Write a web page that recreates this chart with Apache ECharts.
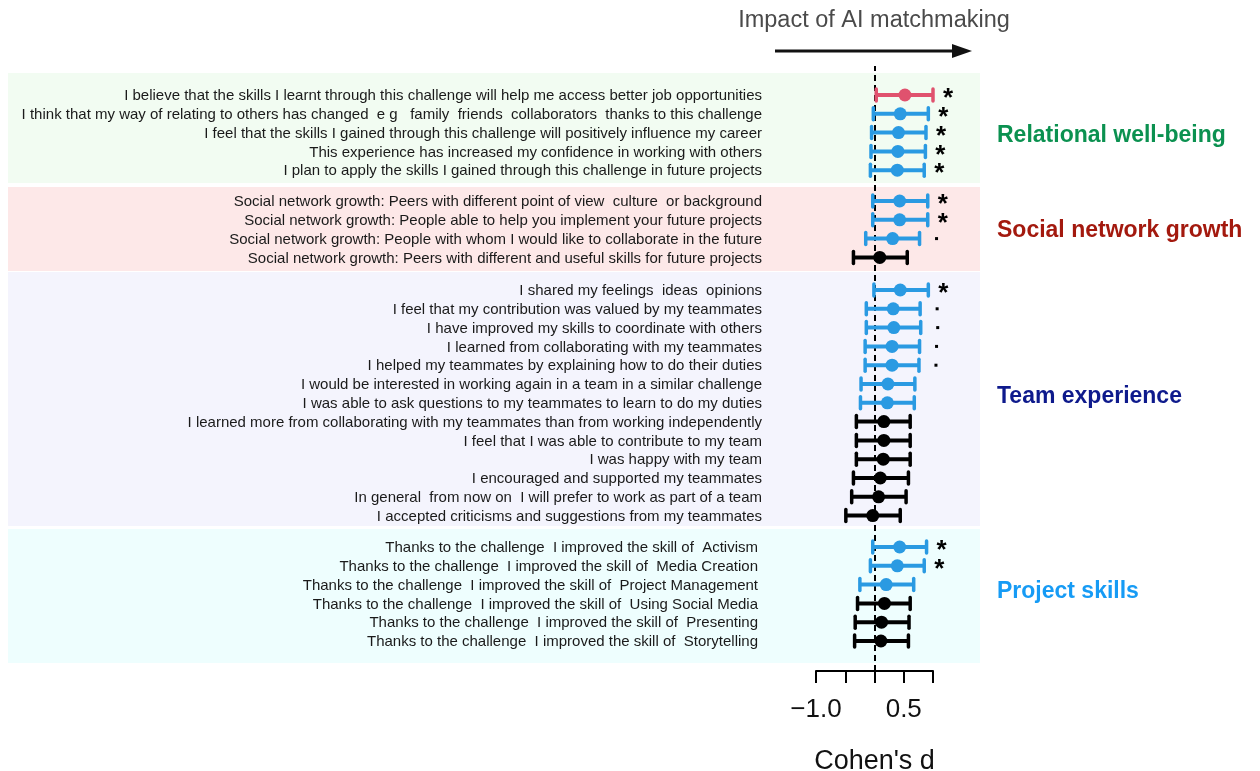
<!DOCTYPE html>
<html>
<head>
<meta charset="utf-8">
<script src="https://cdn.jsdelivr.net/npm/echarts@6/dist/echarts.min.js"></script>
<style>
html,body{margin:0;padding:0;background:#fff;}
#chart{width:1260px;height:771px;}
</style>
</head>
<body>
<div id="chart"></div>
<script>
// ---------------- DATA ----------------
const groupNames = ['Relational well-being', 'Social network growth', 'Team experience', 'Project skills'];

const relLabels = [
  'I believe that the skills I learnt through this challenge will help me access better job opportunities',
  'I think that my way of relating to others has changed  e g   family  friends  collaborators  thanks to this challenge',
  'I feel that the skills I gained through this challenge will positively influence my career',
  'This experience has increased my confidence in working with others',
  'I plan to apply the skills I gained through this challenge in future projects'
];
const relMean = [0.52, 0.44, 0.41, 0.40, 0.39];
const relLow  = [0.03, -0.02, -0.05, -0.06, -0.07];
const relHigh = [1.00, 0.92, 0.88, 0.87, 0.85];
const relSig  = [4, 3, 3, 3, 3];

const snLabels = [
  'Social network growth: Peers with different point of view  culture  or background',
  'Social network growth: People able to help you implement your future projects',
  'Social network growth: People with whom I would like to collaborate in the future',
  'Social network growth: Peers with different and useful skills for future projects'
];
const snMean = [0.43, 0.43, 0.31, 0.09];
const snLow  = [-0.03, -0.03, -0.15, -0.36];
const snHigh = [0.91, 0.91, 0.77, 0.56];
const snSig  = [3, 3, 2, 0];

const teamLabels = [
  'I shared my feelings  ideas  opinions',
  'I feel that my contribution was valued by my teammates',
  'I have improved my skills to coordinate with others',
  'I learned from collaborating with my teammates',
  'I helped my teammates by explaining how to do their duties',
  'I would be interested in working again in a team in a similar challenge',
  'I was able to ask questions to my teammates to learn to do my duties',
  'I learned more from collaborating with my teammates than from working independently',
  'I feel that I was able to contribute to my team',
  'I was happy with my team',
  'I encouraged and supported my teammates',
  'In general  from now on  I will prefer to work as part of a team',
  'I accepted criticisms and suggestions from my teammates'
];
const teamMean = [0.44, 0.32, 0.33, 0.30, 0.30, 0.23, 0.22, 0.16, 0.16, 0.15, 0.10, 0.07, -0.03];
const teamLow  = [-0.01, -0.14, -0.14, -0.16, -0.16, -0.23, -0.24, -0.31, -0.31, -0.31, -0.36, -0.39, -0.49];
const teamHigh = [0.92, 0.78, 0.79, 0.77, 0.76, 0.69, 0.68, 0.61, 0.61, 0.61, 0.58, 0.54, 0.44];
const teamSig  = [3, 2, 2, 2, 2, 1, 1, 0, 0, 0, 0, 0, 0];

const projLabels = [
  'Thanks to the challenge  I improved the skill of  Activism',
  'Thanks to the challenge  I improved the skill of  Media Creation',
  'Thanks to the challenge  I improved the skill of  Project Management',
  'Thanks to the challenge  I improved the skill of  Using Social Media',
  'Thanks to the challenge  I improved the skill of  Presenting',
  'Thanks to the challenge  I improved the skill of  Storytelling'
];
const projMean = [0.43, 0.39, 0.20, 0.17, 0.12, 0.11];
const projLow  = [-0.03, -0.07, -0.25, -0.29, -0.33, -0.34];
const projHigh = [0.89, 0.85, 0.67, 0.61, 0.59, 0.58];
const projSig  = [3, 3, 1, 0, 0, 0];

const tickValues = [-1.0, -0.5, 0, 0.5, 1.0];
const tickLabels = ['\u22121.0', '', '', '0.5', ''];
const xTitle = "Cohen's d";
const topTitle = 'Impact of AI matchmaking';

// ---------------- STYLE / LAYOUT ----------------
const groups = [
  {labels: relLabels, mean: relMean, low: relLow, high: relHigh, sig: relSig},
  {labels: snLabels, mean: snMean, low: snLow, high: snHigh, sig: snSig},
  {labels: teamLabels, mean: teamMean, low: teamLow, high: teamHigh, sig: teamSig},
  {labels: projLabels, mean: projMean, low: projLow, high: projHigh, sig: projSig}
];
const groupTops = [85.6, 191.6, 280.6, 537.6];
const rowH = 18.8;
const labelMargins = [54, 54, 54, 58];
const groupColors = ['#0B9150', '#A3190E', '#0E1A8C', '#169BF5'];
const groupLabelY = [136, 231, 397, 592];
const bands = [
  {y: 73, h: 110, c: '#F2FCF2'},
  {y: 187, h: 84, c: '#FDE8E8'},
  {y: 272, h: 254, c: '#F4F4FD'},
  {y: 529, h: 134, c: '#EEFEFE'}
];
const GL = 816, GW = 117;
const FONT = '"Liberation Sans", Arial, Helvetica, sans-serif';

function colorFor(level) {
  if (level >= 4) return '#E0526E';
  if (level >= 1) return '#2A9AE2';
  return '#000000';
}

function renderItem(params, api) {
  const y = api.value(3);
  const lo = api.coord([api.value(0), y]);
  const mid = api.coord([api.value(1), y]);
  const hi = api.coord([api.value(2), y]);
  const level = api.value(4);
  const col = colorFor(level);
  const children = [
    {type: 'line', shape: {x1: lo[0], y1: lo[1], x2: hi[0], y2: hi[1]}, style: {stroke: col, lineWidth: 4}},
    {type: 'line', shape: {x1: lo[0], y1: lo[1] - 6, x2: lo[0], y2: lo[1] + 6}, style: {stroke: col, lineWidth: 3.5, lineCap: 'round'}},
    {type: 'line', shape: {x1: hi[0], y1: hi[1] - 6, x2: hi[0], y2: hi[1] + 6}, style: {stroke: col, lineWidth: 3.5, lineCap: 'round'}},
    {type: 'circle', shape: {cx: mid[0], cy: mid[1], r: 6.5}, style: {fill: col}}
  ];
  if (level >= 3) {
    children.push({type: 'text', x: hi[0] + 15, y: hi[1] + 4, style: {text: '*', fill: '#000', font: 'bold 26px ' + FONT, align: 'center', verticalAlign: 'middle'}});
  } else if (level === 2) {
    children.push({type: 'rect', shape: {x: hi[0] + 15.5, y: hi[1] - 1.5, width: 3, height: 3}, style: {fill: '#000'}});
  }
  return {type: 'group', children: children};
}

const grids = [], xAxes = [], yAxes = [], series = [];
groups.forEach((g, gi) => {
  grids.push({left: GL, width: GW, top: groupTops[gi], height: g.labels.length * rowH, containLabel: false, outerBoundsMode: 'none'});
  xAxes.push({gridIndex: gi, type: 'value', min: -1, max: 1, show: false});
  yAxes.push({
    gridIndex: gi, type: 'category', data: g.labels, inverse: true,
    axisLine: {show: false}, axisTick: {show: false}, splitLine: {show: false},
    axisLabel: {color: '#1a1a1a', fontSize: 15, fontFamily: FONT, margin: labelMargins[gi], interval: 0, verticalAlign: 'top', lineHeight: 2}
  });
  const data = g.labels.map((_, i) => [g.low[i], g.mean[i], g.high[i], i, g.sig[i]]);
  series.push({
    type: 'custom', xAxisIndex: gi, yAxisIndex: gi, renderItem: renderItem,
    encode: {x: [0, 1, 2], y: 3}, data: data, clip: false, z: 5, silent: true
  });
});

// axis grid (full height) with dashed zero line
grids.push({left: GL, width: GW, top: 66, height: 605, containLabel: false, outerBoundsMode: 'none'});
xAxes.push({
  gridIndex: 4, type: 'value', min: -1, max: 1, interval: 0.5,
  axisLine: {show: true, lineStyle: {color: '#000', width: 2}},
  axisTick: {show: true, length: 12, lineStyle: {color: '#000', width: 2}},
  splitLine: {show: false},
  axisLabel: {
    color: '#111', fontSize: 26, fontFamily: FONT, margin: 26, showMinLabel: true, showMaxLabel: true,
    formatter: v => { const k = tickValues.findIndex(t => Math.abs(t - v) < 1e-9); return k >= 0 ? tickLabels[k] : ''; }
  },
  name: xTitle, nameLocation: 'middle', nameGap: 77,
  nameTextStyle: {color: '#111', fontSize: 27, fontFamily: FONT}
});
yAxes.push({gridIndex: 4, type: 'value', min: 0, max: 1, show: false});
series.push({
  type: 'line', xAxisIndex: 4, yAxisIndex: 4, data: [], silent: true, z: 3,
  markLine: {
    silent: true, symbol: ['none', 'none'], label: {show: false},
    lineStyle: {color: '#000', width: 2, type: [6, 4]},
    data: [{xAxis: 0}]
  }
});

const graphics = [];
bands.forEach(b => graphics.push({type: 'rect', z: -10, shape: {x: 8, y: b.y, width: 972, height: b.h}, style: {fill: b.c}}));
groupNames.forEach((n, i) => graphics.push({
  type: 'text', x: 997, y: groupLabelY[i],
  style: {text: n, fill: groupColors[i], font: 'bold 23px ' + FONT, verticalAlign: 'middle', align: 'left'}
}));
graphics.push({type: 'text', x: 874, y: 21, style: {text: topTitle, fill: '#4a4a4a', font: '23.5px ' + FONT, align: 'center', verticalAlign: 'middle'}});
graphics.push({type: 'line', shape: {x1: 775, y1: 51, x2: 956, y2: 51}, style: {stroke: '#111', lineWidth: 3}});
graphics.push({type: 'polygon', shape: {points: [[952, 44], [972, 51], [952, 58]]}, style: {fill: '#111'}});

const chart = echarts.init(document.getElementById('chart'), null, {renderer: 'canvas'});
chart.setOption({
  backgroundColor: '#ffffff',
  animation: false,
  grid: grids, xAxis: xAxes, yAxis: yAxes, series: series,
  graphic: graphics
});
</script>
</body>
</html>
